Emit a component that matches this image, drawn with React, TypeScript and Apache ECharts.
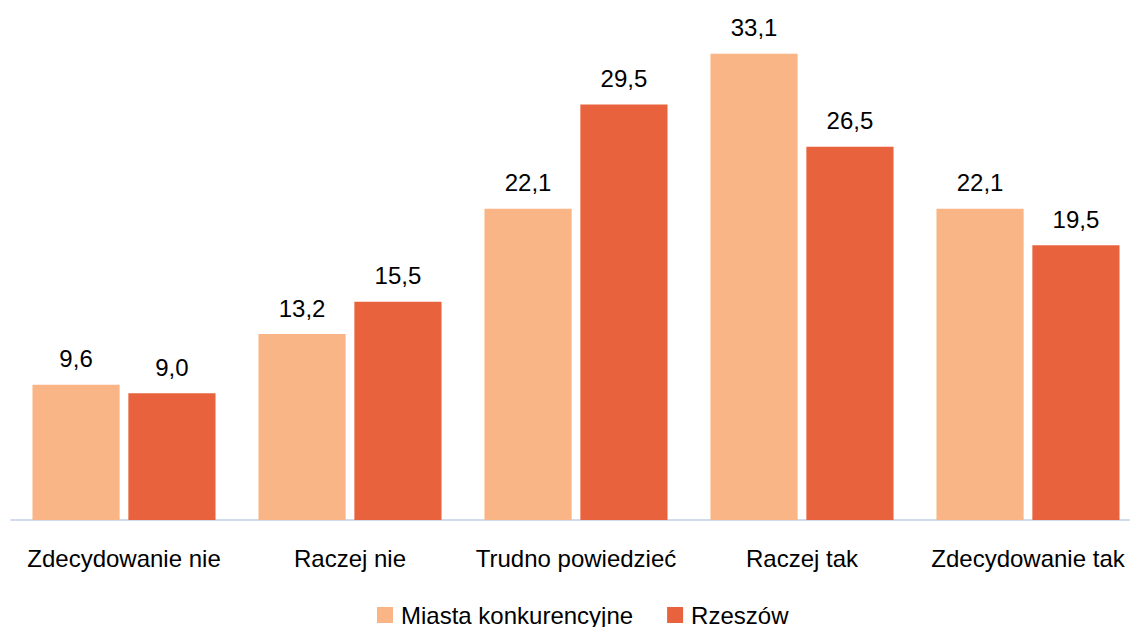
import React, { useEffect, useRef } from "react";
import * as echarts from "echarts";

const categories = [
  "Zdecydowanie nie",
  "Raczej nie",
  "Trudno powiedzieć",
  "Raczej tak",
  "Zdecydowanie tak",
];
const miastaKonkurencyjne = [9.6, 13.2, 22.1, 33.1, 22.1];
const rzeszow = [9.0, 15.5, 29.5, 26.5, 19.5];
const seriesNames = ["Miasta konkurencyjne", "Rzeszów"];
const colors = ["#F9B586", "#E8623D"];

const FONT = "'Liberation Sans', Arial, sans-serif";

const fmt = (v: number) => v.toFixed(1).replace(".", ",");

export default function App() {
  const ref = useRef<HTMLDivElement>(null);

  useEffect(() => {
    if (!ref.current) return;
    const chart = echarts.init(ref.current, undefined, { renderer: "svg" });
    const label = {
      show: true,
      position: "top" as const,
      distance: 14,
      color: "#000",
      fontSize: 24,
      fontFamily: FONT,
      formatter: (p: any) => fmt(p.value),
    };
    chart.setOption({
      animation: false,
      textStyle: { fontFamily: FONT },
      grid: {
        left: 11,
        width: 1130,
        top: 27,
        bottom: 107,
        containLabel: false,
        outerBoundsMode: "none",
      },
      legend: {
        bottom: -5,
        left: 372,
        itemWidth: 16,
        itemHeight: 16,
        itemGap: 34,
        icon: "rect",
        textStyle: { fontSize: 24, color: "#000", fontFamily: FONT, padding: [0, 0, 0, 3] },
        data: seriesNames,
      },
      xAxis: {
        type: "category",
        data: categories,
        axisLine: { show: true, lineStyle: { color: "#D0DCEC", width: 2 } },
        axisTick: { show: false },
        axisLabel: { color: "#000", fontSize: 24, margin: 26, fontFamily: FONT, interval: 0 },
      },
      yAxis: {
        type: "value",
        min: 0,
        max: 35,
        show: false,
        splitLine: { show: false },
      },
      series: [
        {
          name: seriesNames[0],
          type: "bar",
          data: miastaKonkurencyjne,
          itemStyle: { color: colors[0] },
          barGap: "10%",
          barCategoryGap: "19%",
          label,
        },
        {
          name: seriesNames[1],
          type: "bar",
          data: rzeszow,
          itemStyle: { color: colors[1] },
          barGap: "10%",
          barCategoryGap: "19%",
          label,
        },
      ],
    });
    return () => chart.dispose();
  }, []);

  return (
    <div
      ref={ref}
      style={{ position: "absolute", left: 0, top: 0, width: 1130, height: 627, overflow: "hidden" }}
    />
  );
}
